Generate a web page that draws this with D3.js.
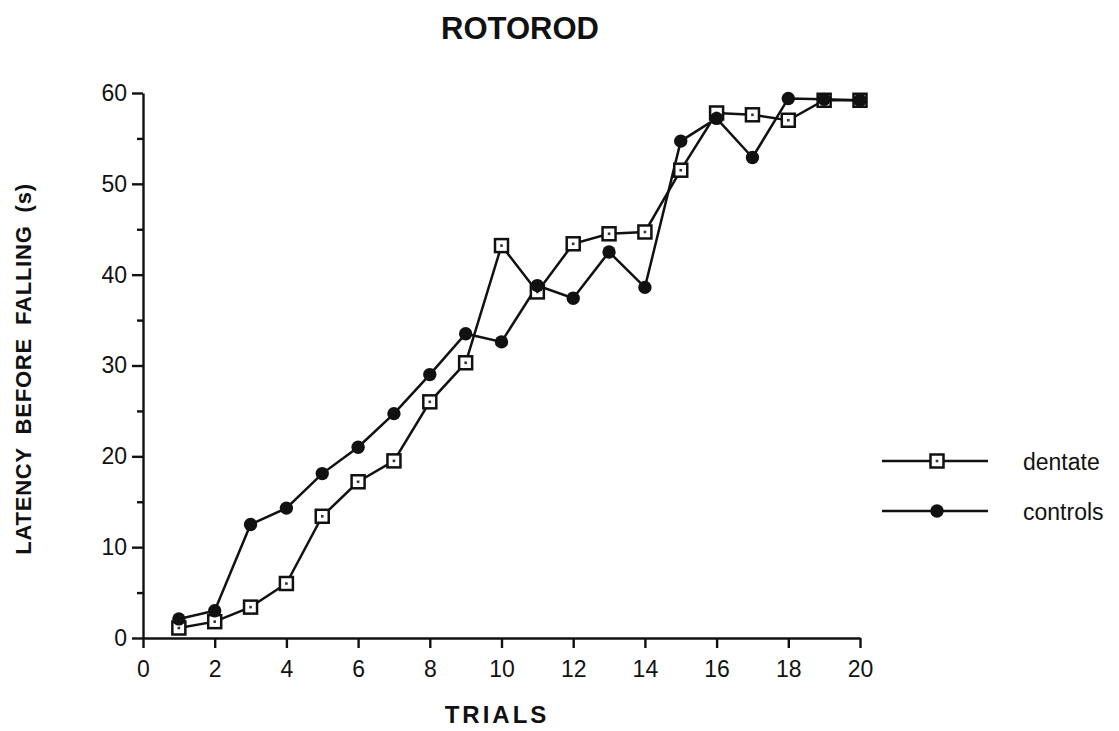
<!DOCTYPE html>
<html>
<head>
<meta charset="utf-8">
<script src="https://cdn.jsdelivr.net/npm/d3@7"></script>
<style>
  body { margin: 0; background: #fff; }
  svg text { font-family: "Liberation Sans", Arial, Helvetica, sans-serif; fill: #111; }
</style>
</head>
<body>
<div id="chart"></div>
<script>
// trials 1..20, latency in seconds
var trials   = d3.range(1, 21);
var dentate  = [1.1, 1.8, 3.4, 6.0, 13.4, 17.2, 19.5, 26.0, 30.3, 43.2,
                38.1, 43.4, 44.5, 44.7, 51.5, 57.8, 57.6, 57.0, 59.2, 59.2];
var controls = [2.1, 3.0, 12.5, 14.3, 18.1, 21.0, 24.7, 29.0, 33.5, 32.6,
                38.8, 37.4, 42.5, 38.6, 54.7, 57.2, 52.9, 59.4, 59.3, 59.2];
var xTicks   = d3.range(0, 21, 2);
var yTicks   = d3.range(0, 61, 10);
var yMinor   = d3.range(5, 60, 10);
var legendItems = ["dentate", "controls"];

var width = 1119, height = 731;
var svg = d3.select("#chart").append("svg").attr("width", width).attr("height", height);

var x = d3.scaleLinear().domain([0, 20]).range([143, 860]);
var y = d3.scaleLinear().domain([0, 60]).range([638, 93]);

// title
svg.append("text").attr("x", 520).attr("y", 39).attr("text-anchor", "middle")
   .style("font-size", "31px").style("font-weight", "bold").text("ROTOROD");

// y axis, major + minor ticks
svg.append("g").attr("transform", "translate(" + x(0) + ",0)")
   .call(d3.axisLeft(y).tickValues(yTicks).tickSize(11).tickSizeOuter(0).tickPadding(5));
svg.append("g").attr("transform", "translate(" + x(0) + ",0)")
   .call(d3.axisLeft(y).tickValues(yMinor).tickSize(6).tickFormat("")).select(".domain").remove();

svg.append("g").attr("transform", "translate(0," + y(0) + ")")
   .call(d3.axisBottom(x).tickValues(xTicks).tickSize(10).tickSizeOuter(0).tickPadding(13));

svg.selectAll(".domain, .tick line").attr("stroke", "#111").attr("stroke-width", 2.4);
svg.selectAll(".tick text").style("font-size", "23px").attr("fill", "#111");

// axis titles
svg.append("text").attr("x", 497).attr("y", 723).attr("text-anchor", "middle")
   .style("font-size", "24px").style("font-weight", "bold").style("letter-spacing", "3px")
   .text("TRIALS");
svg.append("text").attr("transform", "translate(31,369) rotate(-90)").attr("text-anchor", "middle")
   .style("font-size", "22px").style("font-weight", "bold").style("letter-spacing", "0.8px")
   .style("word-spacing", "6px")
   .text("LATENCY BEFORE FALLING (s)");

var line = d3.line().x(function(d, i) { return x(trials[i]); }).y(function(d) { return y(d); });

svg.append("path").datum(dentate).attr("d", line)
   .attr("fill", "none").attr("stroke", "#111").attr("stroke-width", 2.5);
svg.append("path").datum(controls).attr("d", line)
   .attr("fill", "none").attr("stroke", "#111").attr("stroke-width", 2.5);

function squareMark(g) {
  g.append("rect").attr("x", -6.5).attr("y", -6.5).attr("width", 13).attr("height", 13)
   .attr("fill", "#fff").attr("stroke", "#111").attr("stroke-width", 2.5);
  g.append("rect").attr("x", -1.3).attr("y", -1.3).attr("width", 2.6).attr("height", 2.6).attr("fill", "#333");
}
function dotMark(g) {
  g.append("path").attr("d", d3.symbol().type(d3.symbolCircle).size(140)).attr("fill", "#111");
}

svg.selectAll(".dentate").data(dentate).enter().append("g").attr("class", "dentate")
   .attr("transform", function(d, i) { return "translate(" + x(trials[i]) + "," + y(d) + ")"; })
   .each(function() { squareMark(d3.select(this)); });
svg.selectAll(".controls").data(controls).enter().append("g").attr("class", "controls")
   .attr("transform", function(d, i) { return "translate(" + x(trials[i]) + "," + y(d) + ")"; })
   .each(function() { dotMark(d3.select(this)); });

// legend
var lg = svg.selectAll(".legend").data(legendItems).enter().append("g").attr("class", "legend")
   .attr("transform", function(d, i) { return "translate(882," + (461 + i * 50) + ")"; });
lg.append("line").attr("x1", 0).attr("x2", 106).attr("stroke", "#111").attr("stroke-width", 2.5);
lg.append("g").attr("transform", "translate(55,0)")
   .each(function(d) { if (d === "dentate") squareMark(d3.select(this)); else dotMark(d3.select(this)); });
lg.append("text").attr("x", 141).attr("y", 9).style("font-size", "23px").text(function(d) { return d; });
</script>
</body>
</html>
